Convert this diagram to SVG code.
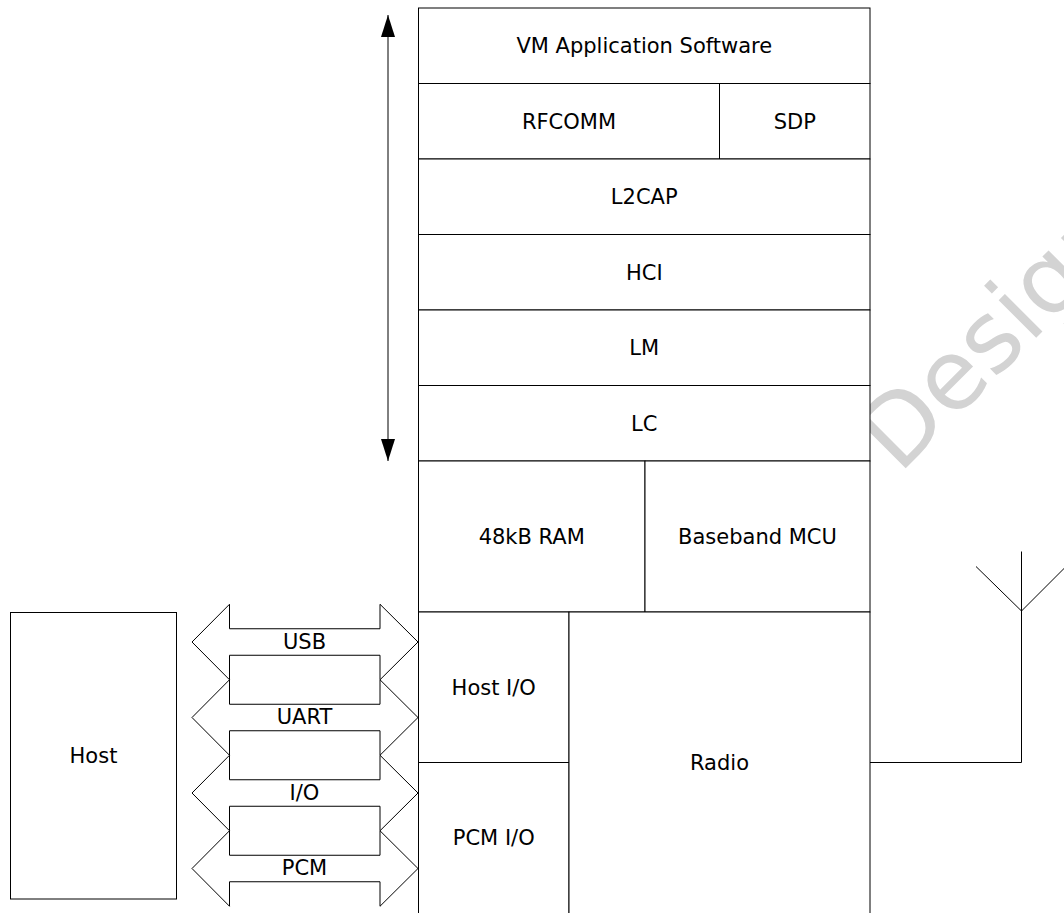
<svg xmlns="http://www.w3.org/2000/svg" width="1064" height="913" viewBox="0 0 1064 913">
  <style>
    .box { fill: #ffffff; stroke: #000000; stroke-width: 1; }
    .lbl { font-family: "DejaVu Sans", Verdana, sans-serif; font-size: 21px; fill: #000000; text-anchor: middle; }
    .bus { fill: #ffffff; stroke: #000000; stroke-width: 1; stroke-linejoin: miter; }
    .wire { fill: none; stroke: #000000; stroke-width: 1; }
    .wm { font-family: "DejaVu Sans", Verdana, sans-serif; font-size: 97px; fill: #d3d3d3; }
  </style>
  <defs>
    <marker id="ah" viewBox="0 0 22 14" refX="22" refY="7" markerWidth="22" markerHeight="14" markerUnits="userSpaceOnUse" orient="auto-start-reverse">
      <path d="M0,0 L22,7 L0,14 Z" fill="#000000"/>
    </marker>
  </defs>
  <rect width="1064" height="913" fill="#ffffff"/>

  <!-- watermark (behind diagram) -->
  <text class="wm" x="899" y="475" transform="rotate(-45 899 475)">Design</text>

  <g id="vm-app"><rect class="box" x="418.5" y="8" width="451.5" height="75.5"/><text class="lbl" x="644.25" y="53.3">VM Application Software</text></g>
  <g id="rfcomm"><rect class="box" x="418.5" y="83.5" width="301" height="75.5"/><text class="lbl" x="569" y="128.9">RFCOMM</text></g>
  <g id="sdp"><rect class="box" x="719.5" y="83.5" width="150.5" height="75.5"/><text class="lbl" x="794.75" y="128.9">SDP</text></g>
  <g id="l2cap"><rect class="box" x="418.5" y="159" width="451.5" height="75.5"/><text class="lbl" x="644.25" y="204.4">L2CAP</text></g>
  <g id="hci"><rect class="box" x="418.5" y="234.5" width="451.5" height="75.5"/><text class="lbl" x="644.25" y="279.9">HCI</text></g>
  <g id="lm"><rect class="box" x="418.5" y="310" width="451.5" height="75.5"/><text class="lbl" x="644.25" y="355.4">LM</text></g>
  <g id="lc"><rect class="box" x="418.5" y="385.5" width="451.5" height="75.5"/><text class="lbl" x="644.25" y="430.9">LC</text></g>
  <g id="ram"><rect class="box" x="418.5" y="461" width="226.5" height="151"/><text class="lbl" x="531.75" y="544.1">48kB RAM</text></g>
  <g id="baseband"><rect class="box" x="645" y="461" width="225" height="151"/><text class="lbl" x="757.5" y="544.1">Baseband MCU</text></g>
  <g id="host-io"><rect class="box" x="418.5" y="612" width="150.5" height="150.5"/><text class="lbl" x="493.75" y="694.9">Host I/O</text></g>
  <g id="pcm-io"><rect class="box" x="418.5" y="762.5" width="150.5" height="152"/><text class="lbl" x="493.75" y="845.4">PCM I/O</text></g>
  <g id="radio"><rect class="box" x="569" y="612" width="301" height="302.5"/><text class="lbl" x="719.5" y="770.1">Radio</text></g>
  <g id="host"><rect class="box" x="10.5" y="612.5" width="166" height="286.5"/><text class="lbl" x="93.5" y="763">Host</text></g>

  <g id="connectors">
    <!-- stack span double arrow -->
    <line class="wire" x1="388" y1="15" x2="388" y2="461" marker-start="url(#ah)" marker-end="url(#ah)"/>
    <!-- bus arrows -->
    <g id="bus-usb">
      <polygon class="bus" points="192,642 229.5,604.25 229.5,628.75 380,628.75 380,604.25 418,642 380,679.75 380,655.25 229.5,655.25 229.5,679.75"/>
      <text class="lbl" x="304.5" y="649">USB</text>
    </g>
    <g id="bus-uart">
      <polygon class="bus" points="192,717.5 229.5,679.75 229.5,704.25 380,704.25 380,679.75 418,717.5 380,755.25 380,730.75 229.5,730.75 229.5,755.25"/>
      <text class="lbl" x="304.5" y="724.3">UART</text>
    </g>
    <g id="bus-io">
      <polygon class="bus" points="192,793 229.5,755.25 229.5,779.75 380,779.75 380,755.25 418,793 380,830.75 380,806.25 229.5,806.25 229.5,830.75"/>
      <text class="lbl" x="304.5" y="799.5">I/O</text>
    </g>
    <g id="bus-pcm">
      <polygon class="bus" points="192,868.5 229.5,830.75 229.5,855.25 380,855.25 380,830.75 418,868.5 380,906.25 380,881.75 229.5,881.75 229.5,906.25"/>
      <text class="lbl" x="304.5" y="875">PCM</text>
    </g>
    <!-- antenna -->
    <g id="antenna">
      <polyline class="wire" points="870,762.5 1021.5,762.5 1021.5,551.5"/>
      <polyline class="wire" points="976,566.5 1021.5,611 1071,561.5"/>
    </g>
  </g>
</svg>
